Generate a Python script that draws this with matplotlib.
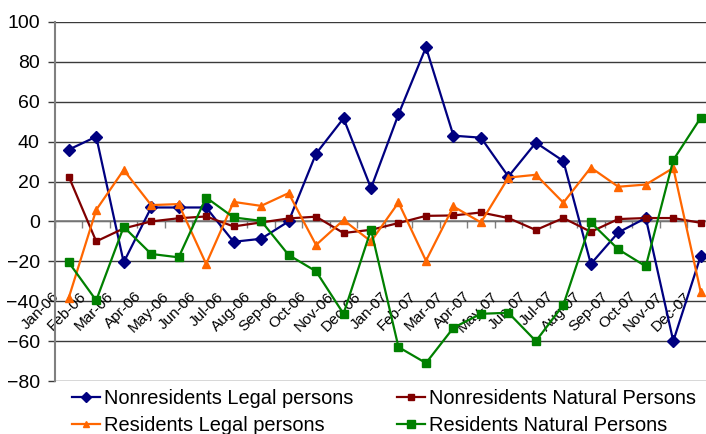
import matplotlib
matplotlib.use("Agg")
import matplotlib.pyplot as plt
from matplotlib.ticker import FixedLocator

plt.rcParams['font.family'] = ['Liberation Sans', 'DejaVu Sans']

months = ["Jan-06", "Feb-06", "Mar-06", "Apr-06", "May-06", "Jun-06",
          "Jul-06", "Aug-06", "Sep-06", "Oct-06", "Nov-06", "Dec-06",
          "Jan-07", "Feb-07", "Mar-07", "Apr-07", "May-07", "Jun-07",
          "Jul-07", "Aug-07", "Sep-07", "Oct-07", "Nov-07", "Dec-07"]

nonres_legal = [36, 42.5, -20.5, 7, 7, 7, -10.2, -8.7, 0, 34, 51.7, 16.7,
                53.7, 87.3, 43, 42, 22.5, 39.5, 30.3, -21.3, -5.5, 1.7, -60, -17.2]
nonres_natural = [22.5, -10, -3.5, 0, 1.6, 2.5, -2.5, -0.5, 1.5, 2.4, -5.8, -4.2,
                  -0.8, 2.8, 3, 4.5, 1.7, -4.3, 1.7, -5.2, 1.2, 1.7, 1.7, -0.7]
res_legal = [-38.3, 5.8, 25.8, 8.2, 8.7, -21.3, 9.8, 7.8, 14.2, -11.8, 0.7, -10,
             9.5, -19.7, 7.5, -0.5, 22, 23.4, 9.4, 27, 17.4, 18.5, 26.8, -35.4]
res_natural = [-20.5, -39.6, -2.7, -16.3, -18, 12, 2, 0.3, -16.8, -25, -46.3, -4.2,
               -63, -71, -53.3, -46.3, -45.8, -60, -41.8, -0.5, -14, -22.5, 30.8, 52]

series = [
    ("Nonresidents Legal persons", nonres_legal, "#000080", "D", 6.5),
    ("Nonresidents Natural Persons", nonres_natural, "#800000", "s", 4.5),
    ("Residents Legal persons", res_legal, "#FF6600", "^", 5.5),
    ("Residents Natural Persons", res_natural, "#008000", "s", 6),
]

fig = plt.figure(figsize=(7.06, 4.34), dpi=100)
W, H = 706, 434
ax = fig.add_axes([55 / W, (H - 381) / H, (714.5 - 55) / W, (381 - 22) / H])

x = list(range(len(months)))
handles = {}
for name, vals, col, mk, ms in series:
    h, = ax.plot(x, vals, color=col, lw=1.6, marker=mk, markersize=ms,
                 markeredgecolor=col, markerfacecolor=col, label=name,
                 zorder=3, clip_on=False)
    handles[name] = h

ax.set_xlim(-0.5, len(months) - 0.5)
ax.set_ylim(-80, 100)
ax.set_yticks(range(-80, 101, 20))
ax.yaxis.grid(True, color="#3a3a3a", lw=1.0, zorder=0)
ax.tick_params(axis="y", length=5, width=1, color="#3a3a3a",
               labelsize=14, pad=6)

# category axis crosses at zero, tick marks between categories
for s in ("top", "right"):
    ax.spines[s].set_visible(False)
ax.spines["bottom"].set_position(("data", 0))
ax.spines["bottom"].set_color("#808080")
ax.spines["bottom"].set_linewidth(1.2)
ax.spines["left"].set_color("#808080")
ax.spines["left"].set_linewidth(1.5)
ax.xaxis.set_major_locator(FixedLocator([i - 0.5 for i in range(len(months) + 1)]))
ax.tick_params(axis="x", length=5, width=1, color="#808080",
               labelbottom=False)

for i, m in enumerate(months):
    ax.text(i - 0.45, -36.5, m, rotation=45, rotation_mode="anchor",
            ha="right", va="center", fontsize=11, zorder=2)

order = ["Nonresidents Legal persons", "Residents Legal persons",
         "Nonresidents Natural Persons", "Residents Natural Persons"]
fig.legend([handles[k] for k in order], order, ncol=2, frameon=False,
           loc="upper left", bbox_to_anchor=(72 / W, 1 - 389 / H),
           borderpad=0, borderaxespad=0, fontsize=14.4,
           handlelength=1.4, handletextpad=0.2, columnspacing=2.2,
           labelspacing=0.4, markerscale=0.85)

fig.savefig("out.png", dpi=100)
